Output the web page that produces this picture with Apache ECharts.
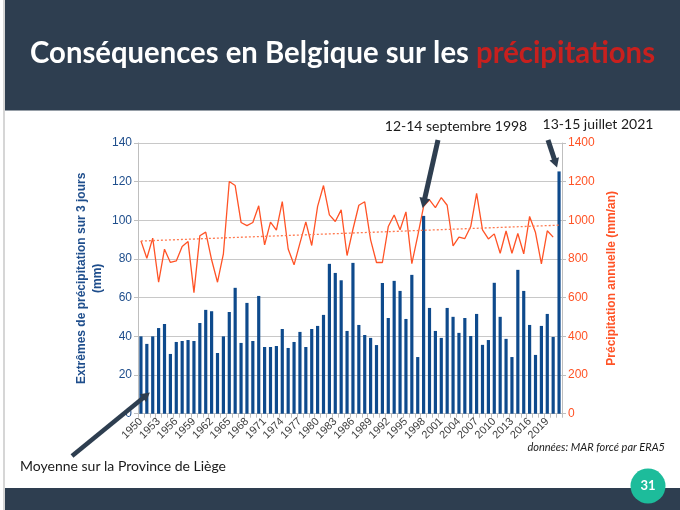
<!DOCTYPE html>
<html><head><meta charset="utf-8">
<script src="https://cdn.jsdelivr.net/npm/echarts@6/dist/echarts.min.js"></script>
<style>html,body{margin:0;padding:0;background:#fff}#c{width:680px;height:510px}</style>
</head><body><div id="c"></div>
<script>
const years = ['1950','1951','1952','1953','1954','1955','1956','1957','1958','1959',
'1960','1961','1962','1963','1964','1965','1966','1967','1968','1969',
'1970','1971','1972','1973','1974','1975','1976','1977','1978','1979',
'1980','1981','1982','1983','1984','1985','1986','1987','1988','1989',
'1990','1991','1992','1993','1994','1995','1996','1997','1998','1999',
'2000','2001','2002','2003','2004','2005','2006','2007','2008','2009',
'2010','2011','2012','2013','2014','2015','2016','2017','2018','2019',
'2020','2021'];
const extremes3d = [40.0,36.1,40.0,44.3,46.4,30.9,37.1,37.6,38.1,37.6,
46.9,53.7,53.0,31.4,40.0,52.6,65.1,36.6,57.3,37.6,
60.9,34.5,34.5,35.0,43.8,34.0,37.1,42.3,34.5,43.8,
45.4,51.1,77.5,72.8,69.0,42.8,78.0,45.9,40.7,39.2,
35.5,67.6,49.5,68.7,63.5,49.0,71.8,29.3,102.3,54.7,
42.8,39.2,54.7,50.1,41.8,49.5,40.2,51.6,35.6,38.1,
67.7,50.1,38.7,29.3,74.4,63.5,45.9,30.4,45.4,51.6,
39.7,125.3];
const annualPrecip = [894,804,908,680,851,782,790,865,890,626,
920,939,796,680,827,1201,1180,989,973,989,
1075,873,991,949,1097,852,770,882,992,870,
1072,1180,1028,994,1054,818,954,1078,1096,899,
782,782,968,1028,951,1044,776,920,1072,1106,
1066,1118,1078,868,913,906,968,1140,951,904,
930,830,945,830,932,827,1020,937,775,946,
913];
const trendYears = ['1950','2021'];
const trendValues = [893, 975];
const leftTicks = [0,20,40,60,80,100,120,140];
const rightTicks = [0,200,400,600,800,1000,1200,1400];

const NAVY = '#2e3e50';
const BAR = '#0e4a8c';
const RED = '#ff5326';

const chart = echarts.init(document.getElementById('c'), null, {renderer:'canvas'});
const trendData = years.map(y => { const i = trendYears.indexOf(y); return i >= 0 ? trendValues[i] : null; });

const option = {
  backgroundColor:'#fff',
  animation:false,
  grid:{left:138, right:118, top:143, height:270.7, containLabel:false},
  xAxis:{
    type:'category', data:years, boundaryGap:true,
    axisLine:{show:true, lineStyle:{color:'#bfbfbf', width:1}},
    axisTick:{show:true, interval:0, length:4, lineStyle:{color:'#bfbfbf'}},
    axisLabel:{interval:2, rotate:45, fontSize:11, color:'#404040', fontFamily:'Liberation Sans', margin:6}
  },
  yAxis:[{
    type:'value', min:leftTicks[0], max:leftTicks[leftTicks.length-1], interval:leftTicks[1]-leftTicks[0],
    position:'left',
    name:'Extrêmes de précipitation sur 3 jours\n(mm)', nameLocation:'middle', nameGap:33, nameMoveOverlap:false,
    nameTextStyle:{color:'#1f4e8c', fontWeight:'bold', fontSize:12, fontFamily:'Liberation Sans', lineHeight:15.5},
    axisLine:{show:true, lineStyle:{color:'#bfbfbf'}},
    axisTick:{show:true, length:4, lineStyle:{color:'#bfbfbf'}},
    axisLabel:{color:'#1f4e8c', fontSize:12, fontFamily:'Liberation Sans', margin:6, formatter:v => String(v)},
    splitLine:{show:true, lineStyle:{color:'#c8c8c8', width:1}}
  },{
    type:'value', min:rightTicks[0], max:rightTicks[rightTicks.length-1], interval:rightTicks[1]-rightTicks[0],
    position:'right',
    name:'Précipitation annuelle (mm/an)', nameLocation:'middle', nameGap:29,
    nameTextStyle:{color:RED, fontWeight:'bold', fontSize:12, fontFamily:'Liberation Sans'},
    axisLine:{show:true, lineStyle:{color:'#bfbfbf'}},
    axisTick:{show:true, length:4, lineStyle:{color:'#bfbfbf'}},
    axisLabel:{color:RED, fontSize:12, fontFamily:'Liberation Sans', margin:6, formatter:v => String(v)},
    splitLine:{show:false}
  }],
  series:[{
    type:'bar', data:extremes3d, yAxisIndex:0, barWidth:'54%',
    itemStyle:{color:BAR}, z:2
  },{
    type:'line', data:annualPrecip, yAxisIndex:1, showSymbol:false, symbol:'none',
    lineStyle:{color:RED, width:1.3}, z:3
  },{
    type:'line', data:trendData, yAxisIndex:1, connectNulls:true, showSymbol:false, symbol:'none',
    lineStyle:{color:'#ff7a50', width:1.3, type:[2,2]}, z:3
  }]
};
chart.setOption(option);

function arrow(x1,y1,x2,y2,w,hl,hw,color){
  const dx=x2-x1, dy=y2-y1, L=Math.hypot(dx,dy), ux=dx/L, uy=dy/L;
  const bx=x2-ux*hl, by=y2-uy*hl, px=-uy, py=ux;
  return [
    {type:'line', z:100, shape:{x1:x1,y1:y1,x2:bx+ux*1,y2:by+uy*1}, style:{stroke:color,lineWidth:w}},
    {type:'polygon', z:100, shape:{points:[[x2,y2],[bx+px*hw,by+py*hw],[bx-px*hw,by-py*hw]]}, style:{fill:color}}
  ];
}

const p98 = chart.convertToPixel({seriesIndex:0}, ['1998', extremes3d[years.indexOf('1998')]]);
const p21 = chart.convertToPixel({seriesIndex:0}, ['2021', extremes3d[years.indexOf('2021')]]);
const p51 = chart.convertToPixel({seriesIndex:0}, ['1951', 11]);

const cv = document.createElement('canvas').getContext('2d');
const TF = 'bold 30px Lato';
cv.font = TF;
const t1 = 'Conséquences en Belgique sur les ';
const t2 = 'précipitations';
const w1 = cv.measureText(t1).width, w2 = cv.measureText(t2).width;
const sc = 625 / (w1 + w2);

const g = [
  {type:'rect', z:0, shape:{x:5,y:0,width:675,height:110.5}, style:{fill:NAVY}},
  {type:'line', z:0, shape:{x1:4,y1:0,x2:4,y2:510}, style:{stroke:'#c8c8c8',lineWidth:1.5}},
  {type:'rect', z:0, shape:{x:5,y:488,width:675,height:22}, style:{fill:NAVY}},
  {type:'text', z:10, x:30, y:53, scaleX:sc, style:{text:t1, font:TF, fill:'#ffffff', align:'left', verticalAlign:'middle'}},
  {type:'text', z:10, x:30 + w1*sc, y:53, scaleX:sc, style:{text:t2, font:TF, fill:'#c8201e', align:'left', verticalAlign:'middle'}},
  {type:'circle', z:10, shape:{cx:648, cy:486, r:17.5}, style:{fill:'#1dbc9b'}},
  {type:'text', z:11, x:648, y:486, style:{text:'31', font:'bold 13px Lato', fill:'#fff', align:'center', verticalAlign:'middle'}},
  {type:'text', z:10, x:456, y:126, style:{text:'12-14 septembre 1998', font:'14px Lato', fill:'#1a1a1a', align:'center', verticalAlign:'middle'}},
  {type:'text', z:10, x:598, y:124, style:{text:'13-15 juillet 2021', font:'14px Lato', fill:'#1a1a1a', align:'center', verticalAlign:'middle'}},
  {type:'text', z:10, x:20, y:466, style:{text:'Moyenne sur la Province de Liège', font:'14px Lato', fill:'#1a1a1a', align:'left', verticalAlign:'middle'}},
  {type:'text', z:10, x:665, y:447, style:{text:'données: MAR forcé par ERA5', font:'italic 11px Lato', fill:'#1a1a1a', align:'right', verticalAlign:'middle'}}
]
.concat(arrow(438, 140, p98[0]-1, p98[1]-8, 5, 10, 5.5, NAVY))
.concat(arrow(548, 140, p21[0]-2, p21[1]-4, 5, 9, 5, NAVY))
.concat(arrow(72, 456, p51[0]+3, p51[1]-0, 4.5, 9, 5, NAVY));

chart.setOption({graphic:{elements:g}});
</script></body></html>
